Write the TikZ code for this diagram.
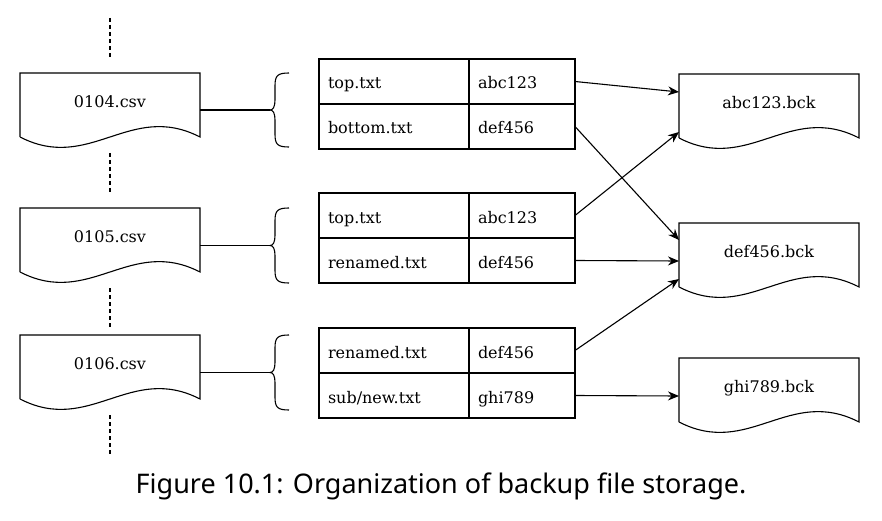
\documentclass[tikz,border=0pt]{standalone}
\usepackage{fontspec}
\setmainfont{DejaVu Serif}
\newfontfamily\captionfont{Noto Sans}
\usetikzlibrary{arrows.meta,calc}

\tikzset{
  docbox/.style={minimum width=180pt, minimum height=64pt, inner sep=0pt, outer sep=0pt,
    anchor=north west, text depth=6pt, font=\fontsize{16}{19}\selectfont},
  namecell/.style={draw, line width=1.1pt, anchor=north west, outer sep=0pt,
    minimum height=45pt, text width=132pt, inner xsep=9pt, inner ysep=0pt, align=left,
    text height=16pt, text depth=1pt, font=\fontsize{16}{19}\selectfont},
  hashcell/.style={namecell, text width=88pt},
  link/.style={line width=1.1pt, -{Stealth[length=11pt,width=9pt]}},
  timeline/.style={line width=1.1pt, dash pattern=on 4pt off 3pt},
}

% outline of a document shape around a docbox node
\newcommand{\docoutline}[1]{%
  \draw[line width=1.1pt] (#1.south west) -- (#1.north west) -- (#1.north east) -- (#1.south east)
    .. controls ($(#1.south east)+(-70,-36)$) and ($(#1.south west)+(70,36)$) .. (#1.south west);
}

% curly brace from top to bottom, tip saved as coordinate
\newcommand{\filebrace}[4]{% name, x, top, bottom
  \draw[line width=1.1pt] (#2,#3) .. controls (#2-12,#3) and (#2-14,#3+3) .. (#2-14,#3+13)
    -- (#2-14,{(#3+#4)/2-10}) .. controls (#2-14,{(#3+#4)/2-3}) and (#2-16,{(#3+#4)/2}) .. (#2-19,{(#3+#4)/2})
    .. controls (#2-16,{(#3+#4)/2}) and (#2-14,{(#3+#4)/2+3}) .. (#2-14,{(#3+#4)/2+10})
    -- (#2-14,#4-13) .. controls (#2-14,#4-3) and (#2-12,#4) .. (#2,#4);
  \coordinate (#1) at (#2-19,{(#3+#4)/2});
}

\begin{document}
\begin{tikzpicture}[x=1pt,y=-1pt]
  \useasboundingbox (0,0) rectangle (882,521);

  % snapshot files
  \node[docbox] (csvA) at (20,73) {0104.csv};
  \node[docbox] (csvB) at (20,208) {0105.csv};
  \node[docbox] (csvC) at (20,335) {0106.csv};
  \foreach \n in {csvA,csvB,csvC}
  {
    \docoutline{\n}
  }

  % time line
  \draw[timeline] ([yshift=55pt]csvA.north) -- ([yshift=15pt]csvA.north);
  \draw[timeline] ([yshift=-16pt]csvA.south) -- ([yshift=15pt]csvB.north);
  \draw[timeline] ([yshift=-16pt]csvB.south) -- ([yshift=8pt]csvC.north);
  \draw[timeline] ([yshift=-16pt]csvC.south) -- ([yshift=-56pt]csvC.south);

  % braces
  \filebrace{bA}{289}{73}{147}
  \filebrace{bB}{289}{208}{283}
  \filebrace{bC}{289}{335}{410}
  \draw[line width=1.1pt] (csvA.east |- bA) -- (bA);
  \draw[line width=1.1pt] (csvB.east |- bB) -- (bB);
  \draw[line width=1.1pt] (csvC.east |- bC) -- (bC);

  % tables
  \node[namecell] (tAn1) at (319,59) {top.txt};
  \node[hashcell] (tAh1) at (tAn1.north east) {abc123};
  \node[namecell] (tAn2) at (tAn1.south west) {bottom.txt};
  \node[hashcell] (tAh2) at (tAn2.north east) {def456};

  \node[namecell] (tBn1) at (319,193) {top.txt};
  \node[hashcell] (tBh1) at (tBn1.north east) {abc123};
  \node[namecell] (tBn2) at (tBn1.south west) {renamed.txt};
  \node[hashcell] (tBh2) at (tBn2.north east) {def456};

  \node[namecell] (tCn1) at (319,328) {renamed.txt};
  \node[hashcell] (tCh1) at (tCn1.north east) {def456};
  \node[namecell] (tCn2) at (tCn1.south west) {sub/new.txt};
  \node[hashcell] (tCh2) at (tCn2.north east) {ghi789};

  % backup files
  \node[docbox, text depth=7pt] (bckA) at (679,74) {abc123.bck};
  \node[docbox, text depth=7pt] (bckB) at (679,223) {def456.bck};
  \node[docbox, text depth=7pt] (bckC) at (679,358) {ghi789.bck};
  \foreach \n in {bckA,bckB,bckC}
  {
    \docoutline{\n}
  }

  % links
  \draw[link] (tAh1.east) -- ([yshift=14pt]bckA.west);
  \draw[link] (tAh2.east) -- ([yshift=15pt]bckB.west);
  \draw[link] (tBh1.east) -- ([yshift=-26pt]bckA.west);
  \draw[link] (tBh2.east) -- ([yshift=-6pt]bckB.west);
  \draw[link] (tCh1.east) -- ([yshift=-24pt]bckB.west);
  \draw[link] (tCh2.east) -- ([yshift=-6pt]bckC.west);

  \node[font=\captionfont\fontsize{27}{32}\selectfont] (caption) at (441,486)
    {Figure 10.1: Organization of backup file storage.};
\end{tikzpicture}
\end{document}
